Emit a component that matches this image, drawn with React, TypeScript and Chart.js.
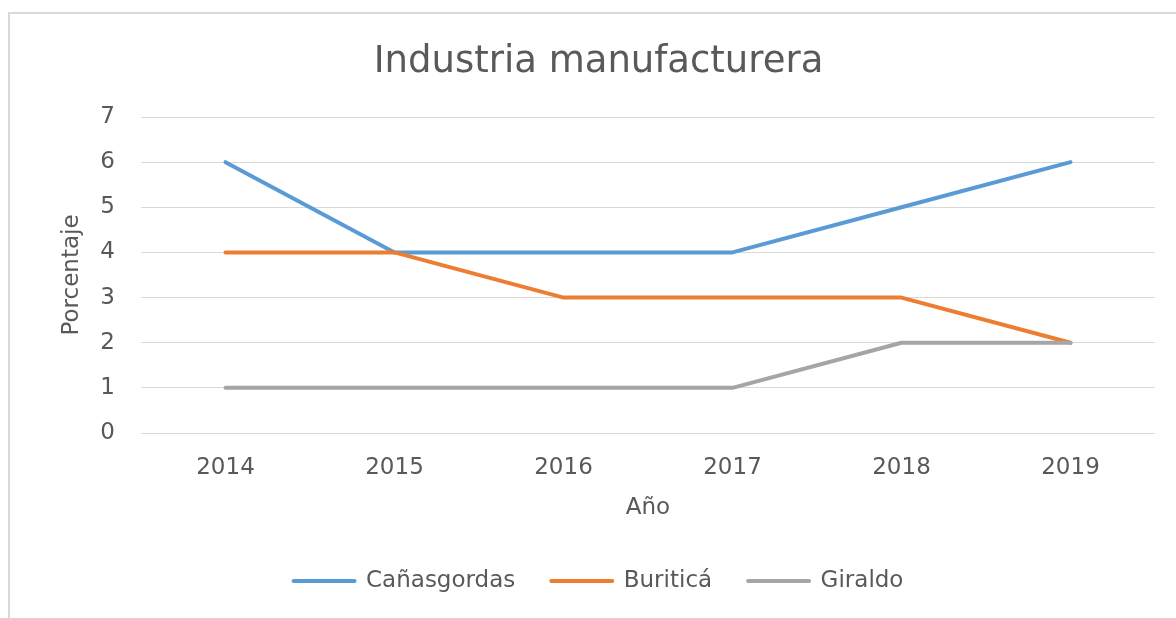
import React, { useEffect, useRef } from "react";
import { Chart, registerables } from "chart.js";

Chart.register(...registerables);

const years: string[] = ["2014", "2015", "2016", "2017", "2018", "2019"];
const canasgordas: number[] = [6, 4, 4, 4, 5, 6];
const buritica: number[] = [4, 4, 3, 3, 3, 2];
const giraldo: number[] = [1, 1, 1, 1, 2, 2];
const seriesNames: string[] = ["Cañasgordas", "Buriticá", "Giraldo"];
const seriesColors: string[] = ["#5B9BD5", "#ED7D31", "#A5A5A5"];

const FONT = "'DejaVu Sans', sans-serif";
const TEXT = "#595959";

export default function App() {
  const ref = useRef<HTMLCanvasElement | null>(null);

  useEffect(() => {
    document.body.style.margin = "0";
    const values = [canasgordas, buritica, giraldo];
    const chart = new Chart(ref.current as HTMLCanvasElement, {
      type: "line",
      data: {
        labels: years,
        datasets: seriesNames.map((name, i) => ({
          label: name,
          data: values[i],
          borderColor: seriesColors[i],
          backgroundColor: seriesColors[i],
          borderWidth: 4,
          borderCapStyle: "round",
          borderJoinStyle: "round",
          pointRadius: 0,
          pointHoverRadius: 0,
          tension: 0,
          order: 3 - i,
        })),
      },
      options: {
        responsive: false,
        animation: false,
        layout: { padding: { left: 42, right: 21, top: 0, bottom: 15.5 } },
        plugins: {
          tooltip: { enabled: false },
          title: {
            display: true,
            text: "Industria manufacturera",
            color: TEXT,
            font: { family: FONT, size: 37, weight: "normal" },
            padding: { top: 40, bottom: 32.6 },
          },
          legend: {
            position: "bottom",
            labels: {
              color: TEXT,
              font: { family: FONT, size: 23 },
              usePointStyle: true,
              pointStyle: "line",
              pointStyleWidth: 61,
              padding: 36,
              generateLabels: (c: any) =>
                c.data.datasets.map((ds: any, i: number) => ({
                  text: ds.label,
                  fillStyle: ds.borderColor,
                  strokeStyle: ds.borderColor,
                  lineWidth: 4,
                  lineCap: "round",
                  pointStyle: "line",
                  hidden: false,
                  datasetIndex: i,
                  fontColor: TEXT,
                })),
            },
          },
        },
        scales: {
          x: {
            offset: true,
            grid: { display: false, drawTicks: false },
            border: { display: false },
            ticks: {
              color: TEXT,
              font: { family: FONT, size: 23 },
              padding: 21,
              maxRotation: 0,
            },
            title: {
              display: true,
              text: "Año",
              color: TEXT,
              font: { family: FONT, size: 23 },
              padding: { top: 0, bottom: 11.7 },
            },
            afterFit: (s: any) => {
              s.height = 100.5;
            },
          },
          y: {
            min: 0,
            max: 7,
            ticks: {
              stepSize: 1,
              color: TEXT,
              font: { family: FONT, size: 23 },
              padding: 26,
            },
            grid: { color: "#D9D9D9", lineWidth: 1, drawTicks: false },
            border: { display: false },
            title: {
              display: true,
              text: "Porcentaje",
              color: TEXT,
              font: { family: FONT, size: 23 },
              padding: { top: 16, bottom: 0 },
            },
            afterFit: (s: any) => {
              s.width = 99;
            },
          },
        },
      },
    } as any);
    return () => chart.destroy();
  }, []);

  return (
    <div
      style={{
        position: "absolute",
        left: 0,
        top: 0,
        width: 1176,
        height: 618,
        overflow: "hidden",
        background: "#fff",
      }}
    >
      <div
        style={{
          position: "absolute",
          left: 8,
          top: 12,
          width: 1200,
          height: 640,
          borderTop: "2px solid #D9D9D9",
          borderLeft: "2px solid #D9D9D9",
        }}
      />
      <canvas ref={ref} width={1176} height={618} style={{ position: "absolute", left: 0, top: 0 }} />
    </div>
  );
}
